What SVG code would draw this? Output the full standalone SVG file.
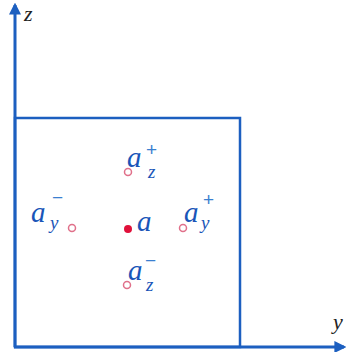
<svg xmlns="http://www.w3.org/2000/svg" width="346" height="352" viewBox="0 0 346 352">
<style>
.ax{stroke:#1c5fc0;stroke-width:3;fill:none}
.bx{stroke:#1c5fc0;stroke-width:2.5;fill:none}
.a{font-family:"Liberation Serif",serif;font-style:italic;font-size:29px;fill:#1a55b8}
.s{font-family:"Liberation Serif",serif;font-style:italic;font-size:19px;fill:#1a55b8}
.p{font-family:"Liberation Sans",sans-serif;font-size:19px;fill:#3a7fd0}
.lab{font-family:"Liberation Serif",serif;font-style:italic;font-size:22px;fill:#222}
.oc{fill:none;stroke:#e0708a;stroke-width:1.5}
</style>
<defs>
<marker id="ah" viewBox="0 0 10 10" refX="8" refY="5" markerWidth="4" markerHeight="4" orient="auto" markerUnits="strokeWidth">
<path d="M0,0 L10,5 L0,10 Z" fill="#1c5fc0"/>
</marker>
</defs>
<g id="connectors">
<line class="ax" x1="15" y1="347" x2="15" y2="5" marker-end="url(#ah)"/>
<line class="ax" x1="14" y1="347" x2="344" y2="347" marker-end="url(#ah)"/>
</g>
<g id="box"><rect class="bx" x="15" y="118" width="225" height="229"/></g>
<g id="axis-z"><text class="lab" x="24" y="21">z</text></g>
<g id="axis-y"><text class="lab" x="333" y="329">y</text></g>
<g id="az-plus">
<circle class="oc" cx="128" cy="172" r="3.5"/>
<text class="a" x="127" y="167">a</text>
<text class="p" x="146" y="156">+</text>
<text class="s" x="148" y="178">z</text>
</g>
<g id="ay-minus">
<circle class="oc" cx="72" cy="228" r="3.5"/>
<text class="a" x="31" y="222">a</text>
<text class="p" x="52" y="204">−</text>
<text class="s" x="50" y="229">y</text>
</g>
<g id="center">
<circle cx="128" cy="229" r="4" fill="#e0103a"/>
<text class="a" x="137" y="231">a</text>
</g>
<g id="ay-plus">
<circle class="oc" cx="183" cy="228" r="3.5"/>
<text class="a" x="184" y="222">a</text>
<text class="p" x="203" y="206">+</text>
<text class="s" x="201" y="229">y</text>
</g>
<g id="az-minus">
<circle class="oc" cx="127" cy="285" r="3.5"/>
<text class="a" x="128" y="280">a</text>
<text class="p" x="145" y="267">−</text>
<text class="s" x="146" y="291">z</text>
</g>
</svg>
